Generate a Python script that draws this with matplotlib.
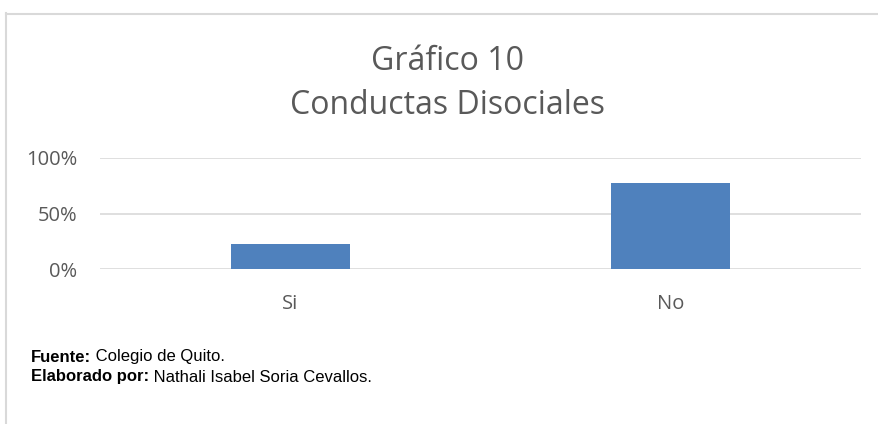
import matplotlib
matplotlib.use("Agg")
import matplotlib.pyplot as plt
from matplotlib.lines import Line2D

# data
categories = ["Si", "No"]
values = [0.23, 0.77]
yticks = [0, 0.5, 1.0]
ytick_labels = ["0%", "50%", "100%"]

title_lines = ["Gráfico 10", "Conductas Disociales"]
footer = [("Fuente:", " Colegio de Quito."),
          ("Elaborado por:", " Nathali Isabel Soria Cevallos.")]

W, H = 879, 424
fig = plt.figure(figsize=(W / 100, H / 100), dpi=100)
fig.patch.set_facecolor("white")

grey = "#595959"
grid = "#d9d9d9"

# axes placed in pixel terms
left, right, top, bottom = 100, 861, 157.7, 269.3
ax = fig.add_axes([left / W, 1 - bottom / H, (right - left) / W, (bottom - top) / H])
ax.bar(range(len(categories)), values, width=0.313, color="#4F81BD", zorder=3)
ax.set_xlim(-0.5, len(categories) - 0.5)
ax.set_ylim(0, 1.0)
ax.set_yticks(yticks)
ax.set_yticklabels(ytick_labels)
ax.set_xticks(range(len(categories)))
ax.set_xticklabels(categories)
ax.tick_params(axis="both", length=0, labelsize=14.5, colors=grey, labelfontfamily="Open Sans")
ax.tick_params(axis="y", pad=16.5)
ax.tick_params(axis="x", pad=18)
for sp in ax.spines.values():
    sp.set_visible(False)
ax.yaxis.grid(True, color=grid, linewidth=1.2, zorder=0)
ax.set_axisbelow(True)

# title
fig.text(448 / W, 1 - 61 / H, title_lines[0], ha="center", va="center",
         fontsize=23, color=grey, family="Open Sans")
fig.text(448 / W, 1 - 105 / H, title_lines[1], ha="center", va="center",
         fontsize=23, color=grey, family="Open Sans")

# border of the chart box
fig.add_artist(Line2D([6.5 / W, 6.5 / W], [0, 1 - 13 / H], color=grid, linewidth=1.5))
fig.add_artist(Line2D([6.5 / W, 1], [1 - 13.5 / H, 1 - 13.5 / H], color=grid, linewidth=1.5))

# footer
renderer = fig.canvas.get_renderer()
for i, (bold, normal) in enumerate(footer):
    y = 1 - (357 + i * 20) / H
    t = fig.text(31 / W, y, bold, ha="left", va="center", fontsize=12,
                 fontweight="bold", family="Liberation Sans", color="black")
    bb = t.get_window_extent(renderer)
    fig.text(bb.x1 / W, y, normal, ha="left", va="center", fontsize=12,
             family="Liberation Sans", color="black")

fig.savefig("out.png", dpi=100)
